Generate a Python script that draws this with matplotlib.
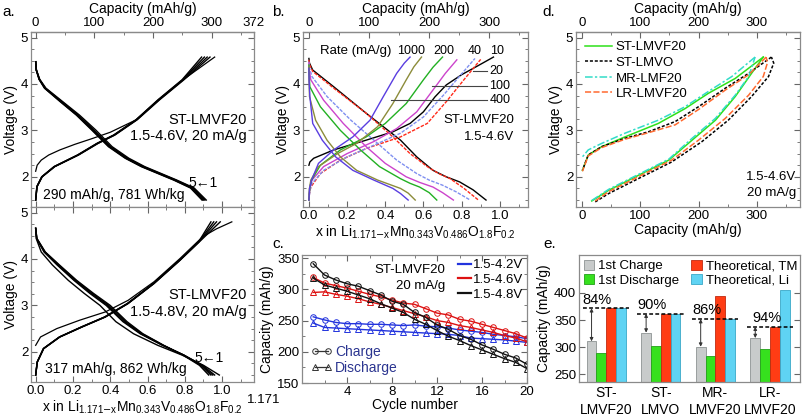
import numpy as np
import matplotlib.pyplot as plt
from matplotlib.ticker import MultipleLocator
from matplotlib.lines import Line2D
from matplotlib.patches import Patch

plt.rcParams['font.family'] = ['Liberation Sans', 'DejaVu Sans']
plt.rcParams['mathtext.default'] = 'regular'
plt.rcParams['font.size'] = 9.5

# ---------------- data ----------------
# x <-> capacity conversion (x = 1.171 at 372 mAh/g)
CAP_MAX = 372.0
X_MAX = 1.171

# panel a, 1.5-4.6 V, cycles 1..5
a46_dis_v = [4.48, 4.30, 4.10, 3.91, 3.62, 3.33, 3.01, 2.65, 2.40, 2.22, 2.08, 1.93, 1.76, 1.50]
a46_dis_x = [
    [0.0, 0.004, 0.022, 0.055, 0.145, 0.235, 0.322, 0.410, 0.500, 0.585, 0.668, 0.757, 0.850, 0.915],
    [0.0, 0.004, 0.020, 0.052, 0.140, 0.228, 0.312, 0.402, 0.492, 0.578, 0.662, 0.752, 0.844, 0.908],
    [0.0, 0.004, 0.020, 0.050, 0.137, 0.224, 0.308, 0.398, 0.488, 0.574, 0.658, 0.748, 0.838, 0.902],
    [0.0, 0.003, 0.019, 0.049, 0.134, 0.221, 0.304, 0.394, 0.484, 0.570, 0.654, 0.744, 0.834, 0.897],
    [0.0, 0.003, 0.018, 0.047, 0.131, 0.218, 0.300, 0.390, 0.480, 0.566, 0.650, 0.740, 0.830, 0.892],
]
a46_chg1_v = [2.12, 2.25, 2.36, 2.47, 2.58, 2.70, 2.82, 2.96, 3.23, 3.66, 4.09, 4.58]
a46_chg1_x = [0.0, 0.008, 0.030, 0.070, 0.130, 0.210, 0.300, 0.400, 0.540, 0.660, 0.790, 0.960]
a46_chg_v = [1.50, 1.79, 2.00, 2.22, 2.47, 2.72, 2.90, 3.23, 3.66, 4.09, 4.58]
a46_chg_x = [
    [0.0, 0.008, 0.035, 0.103, 0.230, 0.335, 0.425, 0.545, 0.665, 0.795, 0.935],
    [0.0, 0.007, 0.034, 0.101, 0.228, 0.332, 0.422, 0.542, 0.662, 0.791, 0.920],
    [0.0, 0.007, 0.033, 0.100, 0.226, 0.330, 0.420, 0.540, 0.659, 0.788, 0.905],
    [0.0, 0.006, 0.032, 0.098, 0.224, 0.328, 0.418, 0.538, 0.656, 0.785, 0.890],
]

# panel a, 1.5-4.8 V, cycles 1..5
a48_dis_v = [4.66, 4.44, 4.15, 3.87, 3.54, 3.26, 3.00, 2.65, 2.39, 2.14, 1.93, 1.71, 1.50]
a48_dis_x = [
    [0.0, 0.003, 0.030, 0.090, 0.175, 0.260, 0.345, 0.430, 0.525, 0.655, 0.785, 0.900, 0.985],
    [0.0, 0.005, 0.045, 0.115, 0.205, 0.290, 0.378, 0.468, 0.560, 0.680, 0.795, 0.895, 0.960],
    [0.0, 0.006, 0.048, 0.120, 0.210, 0.297, 0.385, 0.475, 0.565, 0.683, 0.795, 0.890, 0.950],
    [0.0, 0.006, 0.050, 0.124, 0.215, 0.303, 0.392, 0.482, 0.570, 0.685, 0.793, 0.885, 0.940],
    [0.0, 0.007, 0.052, 0.128, 0.220, 0.310, 0.400, 0.490, 0.575, 0.687, 0.790, 0.878, 0.928],
]
a48_chg1_v = [2.14, 2.32, 2.50, 2.68, 2.86, 3.11, 3.51, 4.01, 4.48, 4.65, 4.80]
a48_chg1_x = [0.0, 0.026, 0.113, 0.235, 0.374, 0.496, 0.635, 0.774, 0.896, 0.970, 1.052]
a48_chg_v = [1.50, 1.78, 2.07, 2.32, 2.54, 2.75, 3.04, 3.47, 3.97, 4.37, 4.80]
a48_chg_x = [
    [0.0, 0.009, 0.043, 0.130, 0.252, 0.374, 0.496, 0.635, 0.774, 0.878, 0.990],
    [0.0, 0.009, 0.043, 0.129, 0.250, 0.372, 0.494, 0.633, 0.772, 0.876, 0.970],
    [0.0, 0.008, 0.042, 0.128, 0.249, 0.371, 0.493, 0.632, 0.771, 0.875, 0.955],
    [0.0, 0.008, 0.041, 0.127, 0.247, 0.369, 0.491, 0.630, 0.770, 0.874, 0.940],
]

# panel b, rate capability (mA/g)
rates = [10, 20, 40, 100, 200, 400, 1000]
rate_colors = ['#000000', '#ff2a1a', '#7f8ff0', '#cc44cc', '#22b022', '#8c8c3a', '#5a3ee0']
rate_styles = ['-', (0, (2.5, 1)), (0, (2.5, 1)), '-', '-', '-', '-']
b_chg_x = [
    [0, 0.005, 0.025, 0.13, 0.30, 0.44, 0.53, 0.60, 0.66, 0.72, 0.80, 0.88, 0.967],
    [0, 0.003, 0.01, 0.06, 0.165, 0.30, 0.48, 0.62, 0.72, 0.81, 0.90],
    [0, 0.005, 0.016, 0.077, 0.20, 0.34, 0.48, 0.60, 0.705, 0.79, 0.87],
    [0, 0.004, 0.016, 0.077, 0.20, 0.34, 0.46, 0.565, 0.65, 0.715, 0.775],
    [0, 0.004, 0.014, 0.06, 0.165, 0.30, 0.40, 0.51, 0.60, 0.65, 0.70],
    [0, 0.003, 0.01, 0.05, 0.15, 0.25, 0.36, 0.44, 0.51, 0.55, 0.59],
    [0, 0.003, 0.014, 0.05, 0.13, 0.23, 0.32, 0.39, 0.46, 0.50, 0.53],
]
b_chg_v = [
    [2.25, 2.32, 2.40, 2.58, 2.79, 2.97, 3.15, 3.40, 3.72, 3.98, 4.20, 4.38, 4.58],
    [1.50, 1.65, 1.78, 2.07, 2.36, 2.61, 2.86, 3.15, 3.62, 4.08, 4.53],
    [1.50, 1.70, 1.86, 2.14, 2.43, 2.68, 2.94, 3.29, 3.76, 4.17, 4.55],
    [1.50, 1.72, 1.93, 2.22, 2.50, 2.76, 3.04, 3.40, 3.87, 4.23, 4.52],
    [1.50, 1.75, 1.93, 2.25, 2.58, 2.86, 3.15, 3.58, 4.09, 4.36, 4.58],
    [1.50, 1.75, 1.93, 2.22, 2.50, 2.72, 3.08, 3.58, 4.09, 4.37, 4.58],
    [1.50, 1.75, 1.93, 2.29, 2.58, 2.86, 3.22, 3.73, 4.23, 4.45, 4.58],
]
b_dis_x = [
    [0, 0.003, 0.02, 0.13, 0.30, 0.48, 0.565, 0.65, 0.72, 0.79, 0.86, 0.928],
    [0, 0.003, 0.02, 0.13, 0.30, 0.44, 0.53, 0.62, 0.68, 0.74, 0.81, 0.888],
    [0, 0.003, 0.016, 0.095, 0.22, 0.36, 0.46, 0.565, 0.63, 0.70, 0.77, 0.845],
    [0, 0.002, 0.01, 0.077, 0.18, 0.30, 0.40, 0.51, 0.58, 0.65, 0.70, 0.757],
    [0, 0.001, 0.005, 0.06, 0.165, 0.27, 0.37, 0.48, 0.53, 0.58, 0.63, 0.67],
    [0, 0.001, 0.003, 0.035, 0.095, 0.165, 0.25, 0.36, 0.42, 0.48, 0.52, 0.557],
    [0, 0.001, 0.005, 0.02, 0.07, 0.14, 0.23, 0.34, 0.39, 0.44, 0.48, 0.52],
]
b_dis_v = [
    [4.55, 4.45, 4.30, 3.94, 3.37, 2.79, 2.43, 2.14, 2.00, 1.89, 1.72, 1.50],
    [4.52, 4.42, 4.27, 3.91, 3.37, 2.86, 2.50, 2.22, 2.07, 1.96, 1.76, 1.50],
    [4.48, 4.35, 4.16, 3.73, 3.22, 2.72, 2.36, 2.07, 1.93, 1.82, 1.68, 1.50],
    [4.45, 4.30, 4.09, 3.65, 3.15, 2.65, 2.29, 2.00, 1.88, 1.78, 1.66, 1.50],
    [4.41, 4.20, 3.94, 3.51, 3.00, 2.58, 2.22, 1.96, 1.86, 1.78, 1.66, 1.50],
    [4.37, 4.10, 3.73, 3.22, 2.79, 2.43, 2.14, 1.93, 1.84, 1.75, 1.65, 1.50],
    [4.34, 4.05, 3.73, 3.15, 2.79, 2.43, 2.14, 1.93, 1.84, 1.75, 1.64, 1.50],
]

# panel c, cycling
cycles = list(range(1, 21))
c42_chg = [256, 251, 247, 245, 245, 244, 244, 243, 242, 243, 241, 240, 238, 235, 233, 231, 228, 226, 224, 221]
c42_dis = [246, 239, 238, 237, 236, 235, 234, 233, 232, 231, 230, 229, 228, 226, 222, 221, 220, 219, 217, 215]
c46_chg = [319, 310, 306, 302, 297, 292, 288, 283, 278, 276, 269, 262, 259, 252, 249, 244, 239, 234, 229, 222]
c46_dis = [295, 296, 292, 289, 285, 280, 276, 271, 266, 261, 256, 250, 247, 242, 239, 235, 231, 226, 222, 216]
c48_chg = [341, 323, 315, 309, 305, 298, 291, 281, 276, 263, 255, 243, 236, 226, 220, 211, 204, 196, 190, 180]
c48_dis = [318, 307, 302, 297, 291, 285, 277, 270, 263, 252, 244, 234, 225, 218, 210, 203, 196, 189, 183, 173]

# panel d, voltage profiles of four samples (capacity mAh/g, voltage V)
d_names = ['ST-LMVF20', 'ST-LMVO', 'MR-LMF20', 'LR-LMVF20']
d_colors = ['#2ee01a', '#000000', '#33dcc8', '#ff6a30']
d_styles = ['-', (0, (2, 1.2)), (0, (5, 1.5, 1.5, 1.5)), (0, (4, 1.5))]
d_chg_cap = [
    [17, 46, 103, 149, 189, 229, 263, 291, 311],
    [23, 46, 103, 154, 206, 251, 291, 320, 329, 325],
    [17, 46, 103, 149, 189, 229, 263, 286, 297],
    [23, 46, 103, 154, 200, 246, 286, 311, 318, 316],
]
d_chg_v = [
    [1.48, 1.71, 2.07, 2.36, 2.79, 3.22, 3.73, 4.23, 4.58],
    [1.46, 1.64, 2.00, 2.32, 2.76, 3.22, 3.73, 4.16, 4.45, 4.58],
    [1.49, 1.73, 2.09, 2.38, 2.83, 3.26, 3.76, 4.16, 4.58],
    [1.48, 1.68, 2.04, 2.36, 2.79, 3.26, 3.76, 4.16, 4.45, 4.58],
]
d_dis_cap = [
    [311, 263, 217, 177, 131, 74, 34, 11, 1],
    [325, 286, 246, 200, 160, 114, 74, 34, 11, 1],
    [297, 257, 217, 177, 131, 74, 34, 11, 1],
    [316, 286, 246, 200, 160, 114, 74, 34, 11, 1],
]
d_dis_v = [
    [4.58, 4.12, 3.80, 3.47, 3.15, 2.86, 2.65, 2.47, 2.14],
    [4.58, 4.23, 3.91, 3.51, 3.19, 2.97, 2.83, 2.65, 2.47, 2.14],
    [4.58, 4.16, 3.84, 3.51, 3.22, 2.94, 2.72, 2.58, 2.43],
    [4.58, 4.20, 3.87, 3.45, 3.12, 2.95, 2.81, 2.63, 2.45, 2.12],
]

# panel e, bars
e_groups = ['ST-\nLMVF20', 'ST-\nLMVO', 'MR-\nLMVF20', 'LR-\nLMVF20']
e_charge = [311, 327, 301, 317]
e_discharge = [290, 303, 284, 296]
e_theo_tm = [372, 362, 394, 338]
e_theo_li = [372, 362, 352, 405]
e_limit = [372, 362, 352, 338]
e_pct = ['84%', '90%', '86%', '94%']

# ---------------- figure ----------------
W, H = 802, 419
fig = plt.figure(figsize=(W / 100, H / 100), dpi=100)


def box(l, t, r, b):
    return fig.add_axes([l / W, 1 - b / H, (r - l) / W, (b - t) / H])


def style(ax, top=True):
    for s in ax.spines.values():
        s.set_color('#8a8a8a')
        s.set_linewidth(0.9)
    ax.tick_params(which='both', direction='in', top=top, right=True,
                   color='#666666', labelsize=9.5, pad=2)
    ax.tick_params(which='major', length=4)
    ax.tick_params(which='minor', length=2.5)


def x2cap(x):
    return np.asarray(x) * CAP_MAX / X_MAX


def cap2x(c):
    return np.asarray(c) * X_MAX / CAP_MAX


def volt_axis(ax):
    ax.set_ylim(1.35, 5.12)
    ax.yaxis.set_major_locator(MultipleLocator(1))
    ax.yaxis.set_minor_locator(MultipleLocator(0.25))
    ax.set_ylabel('Voltage (V)', fontsize=10, labelpad=2)


def top_ticks(sec):
    sec.xaxis.set_minor_locator(MultipleLocator(50))
    sec.tick_params(which='both', direction='in', color='#666666', labelsize=9.5, pad=2)
    sec.tick_params(which='major', length=4)
    sec.tick_params(which='minor', length=2.5)
    sec.set_xlabel('Capacity (mAh/g)', fontsize=10, labelpad=3)


xlabel_li = r'x in Li$_{1.171\mathrm{-}x}$Mn$_{0.343}$V$_{0.486}$O$_{1.8}$F$_{0.2}$'

# ---- panel a (top) ----
axa1 = box(31, 32, 254, 207)
style(axa1, top=False)
for xs in a46_dis_x:
    axa1.plot(xs, a46_dis_v, color='k', lw=1.0)
for xs in a46_chg_x:
    axa1.plot(xs, a46_chg_v, color='k', lw=1.0)
axa1.plot(a46_chg1_x, a46_chg1_v, color='k', lw=0.9)
axa1.set_xlim(-0.025, X_MAX)
volt_axis(axa1)
axa1.xaxis.set_major_locator(MultipleLocator(0.2))
axa1.xaxis.set_minor_locator(MultipleLocator(0.1))
axa1.tick_params(labelbottom=False)
seca = axa1.secondary_xaxis('top', functions=(x2cap, cap2x))
seca.set_xticks([0, 100, 200, 300, 372])
top_ticks(seca)
axa1.text(1.13, 3.23, 'ST-LMVF20', ha='right', va='center', fontsize=10.5)
axa1.text(1.13, 2.87, '1.5-4.6V, 20 mA/g', ha='right', va='center', fontsize=10.5)
axa1.text(0.04, 1.61, '290 mAh/g, 781 Wh/kg', ha='left', va='center', fontsize=10)
axa1.text(0.82, 1.86, '5\u21901', ha='left', va='center', fontsize=10)

# ---- panel a (bottom) ----
axa2 = box(31, 207, 254, 382)
style(axa2)
for xs in a48_dis_x:
    axa2.plot(xs, a48_dis_v, color='k', lw=1.0)
for xs in a48_chg_x:
    axa2.plot(xs, a48_chg_v, color='k', lw=1.0)
axa2.plot(a48_chg1_x, a48_chg1_v, color='k', lw=0.9)
axa2.set_xlim(-0.025, X_MAX)
volt_axis(axa2)
axa2.xaxis.set_minor_locator(MultipleLocator(0.1))
axa2.set_xticks([0, 0.2, 0.4, 0.6, 0.8, 1.0])
axa2.set_xticklabels(['0.0', '0.2', '0.4', '0.6', '0.8', '1.0'])
axa2.set_xlabel(xlabel_li, fontsize=10, labelpad=1)
axa2.annotate('1.171', xy=(1, 0), xycoords='axes fraction', xytext=(7, -13),
              textcoords='offset points', ha='center', va='center', fontsize=9.5)
axa2.text(1.13, 3.22, 'ST-LMVF20', ha='right', va='center', fontsize=10.5)
axa2.text(1.13, 2.86, '1.5-4.8V, 20 mA/g', ha='right', va='center', fontsize=10.5)
axa2.text(0.05, 1.64, '317 mAh/g, 862 Wh/kg', ha='left', va='center', fontsize=10)
axa2.text(0.85, 1.87, '5\u21901', ha='left', va='center', fontsize=10)

# ---- panel b ----
axb = box(303, 32, 528, 207)
style(axb, top=False)
for i in range(len(rates)):
    axb.plot(b_chg_x[i], b_chg_v[i], color=rate_colors[i], ls=rate_styles[i], lw=1.0)
    axb.plot(b_dis_x[i], b_dis_v[i], color=rate_colors[i], ls=rate_styles[i], lw=1.0)
axb.set_xlim(-0.031, 1.148)
volt_axis(axb)
axb.set_xticks([0, 0.2, 0.4, 0.6, 0.8, 1.0])
axb.set_xticklabels(['0.0', '0.2', '0.4', '0.6', '0.8', '1.0'])
axb.xaxis.set_minor_locator(MultipleLocator(0.1))
axb.set_xlabel(xlabel_li, fontsize=10, labelpad=1)
secb = axb.secondary_xaxis('top', functions=(x2cap, cap2x))
secb.set_xticks([0, 100, 200, 300])
top_ticks(secb)
axb.text(0.06, 4.71, 'Rate (mA/g)', ha='left', va='center', fontsize=9.5)
for lab, xx in zip(['1000', '200', '40', '10'], [0.534, 0.708, 0.871, 0.985]):
    axb.text(xx, 4.71, lab, ha='center', va='center', fontsize=9)
for lab, x0, vv in zip(['20', '100', '400'], [0.862, 0.644, 0.429], [4.27, 3.96, 3.65]):
    axb.plot([x0, 0.935], [vv, vv], color='#444444', lw=0.8)
    axb.text(0.945, vv, lab, ha='left', va='center', fontsize=9)
axb.text(1.075, 3.22, 'ST-LMVF20', ha='right', va='center', fontsize=9.5)
axb.text(1.075, 2.86, '1.5-4.6V', ha='right', va='center', fontsize=9.5)

# ---- panel c ----
axc = box(302, 255, 527, 383)
style(axc)
for chg, dis, col in [(c42_chg, c42_dis, '#2233dd'), (c46_chg, c46_dis, '#dd1111'),
                      (c48_chg, c48_dis, '#111111')]:
    axc.plot(cycles, chg, color=col, lw=1.0, marker='o', ms=4, mfc='none', mew=0.7)
    axc.plot(cycles, dis, color=col, lw=1.0, marker='^', ms=4, mfc='none', mew=0.7)
axc.set_xlim(0, 20)
axc.set_ylim(150, 355)
axc.set_xticks([4, 8, 12, 16, 20])
axc.xaxis.set_minor_locator(MultipleLocator(2))
axc.set_yticks([150, 200, 250, 300, 350])
axc.yaxis.set_minor_locator(MultipleLocator(25))
axc.set_xlabel('Cycle number', fontsize=10, labelpad=0)
axc.set_ylabel('Capacity (mAh/g)', fontsize=10, labelpad=2)
axc.text(12.7, 331, 'ST-LMVF20', ha='right', va='center', fontsize=9.5)
axc.text(12.7, 305, '20 mA/g', ha='right', va='center', fontsize=9.5)
h1 = [Line2D([], [], color=c, lw=1.6) for c in ['#2233dd', '#dd1111', '#111111']]
leg1 = axc.legend(h1, ['1.5-4.2V', '1.5-4.6V', '1.5-4.8V'], loc='upper right',
                  frameon=False, fontsize=9.5, handlelength=1.0, handletextpad=0.15,
                  labelspacing=0.2, borderaxespad=0.1, borderpad=0.2)
axc.add_artist(leg1)
h2 = [Line2D([], [], color='#333333', lw=0.9, marker=m, ms=4, mfc='none', mew=0.7)
      for m in ['o', '^']]
leg2 = axc.legend(h2, ['Charge', 'Discharge'], loc='lower left', frameon=False,
                  fontsize=10, numpoints=2, handlelength=1.6, handletextpad=0.2,
                  labelspacing=0.1, borderaxespad=0.2)
for t in leg2.get_texts():
    t.set_color('#2b3590')

# ---- panel d ----
axd = box(576, 32, 800, 207)
style(axd, top=False)
for i in range(len(d_names)):
    axd.plot(d_chg_cap[i], d_chg_v[i], color=d_colors[i], ls=d_styles[i], lw=1.1,
             label=d_names[i])
    axd.plot(d_dis_cap[i], d_dis_v[i], color=d_colors[i], ls=d_styles[i], lw=1.1)
axd.set_xlim(-10, 374)
volt_axis(axd)
axd.set_xticks([0, 100, 200, 300])
axd.xaxis.set_minor_locator(MultipleLocator(50))
axd.set_xlabel('Capacity (mAh/g)', fontsize=10, labelpad=1)
secd = axd.secondary_xaxis('top')
secd.set_xticks([0, 100, 200, 300])
top_ticks(secd)
axd.legend(loc='upper left', frameon=False, fontsize=9.5, handlelength=2.0,
           handletextpad=0.3, labelspacing=0.25, borderaxespad=0.3)
axd.text(368, 2.0, '1.5-4.6V', ha='right', va='center', fontsize=9.5)
axd.text(368, 1.65, '20 mA/g', ha='right', va='center', fontsize=9.5)

# ---- panel e ----
axe = box(579, 255, 800, 382)
style(axe)
pos = np.arange(len(e_groups))
bw = 0.18
bar_sets = [(e_charge, '#c8cbcb', '#8d9393', '1st Charge'),
            (e_discharge, '#36e01e', '#22a018', '1st Discharge'),
            (e_theo_tm, '#ff3c14', '#c02a10', 'Theoretical, TM'),
            (e_theo_li, '#5fd3f3', '#3aa8c8', 'Theoretical, Li')]
for k, (vals, fc, ec, lab) in enumerate(bar_sets):
    axe.bar(pos + (k - 1.5) * bw, vals, bw, bottom=0, color=fc, edgecolor=ec, lw=0.6)
for i in range(len(e_groups)):
    axe.plot([i - 0.43, i + 0.42], [e_limit[i], e_limit[i]], color='k', lw=1.1,
             ls=(0, (2.5, 1.5)))
    axe.annotate('', xy=(i - 1.5 * bw, e_limit[i]), xytext=(i - 1.5 * bw, e_charge[i]),
                 arrowprops=dict(arrowstyle='<|-|>', lw=0.7, color='#333333',
                                 mutation_scale=5, shrinkA=0, shrinkB=0))
    dx = 0.1 if i == 3 else 0.0
    axe.text(i - 0.43 + dx, e_limit[i] + 3, e_pct[i], ha='left', va='bottom', fontsize=10.5)
axe.set_xlim(-0.5, 3.55)
axe.set_ylim(236, 470)
axe.set_yticks([250, 300, 350, 400])
axe.set_xticks(pos)
axe.set_xticklabels(e_groups, fontsize=10, linespacing=1.25)
axe.tick_params(axis='x', which='both', length=0, top=False, pad=3)
axe.set_ylabel('Capacity (mAh/g)', fontsize=10, labelpad=2)
handles = [Patch(facecolor=fc, edgecolor=ec, lw=0.6) for _, fc, ec, _ in bar_sets]
axe.legend(handles, [b[3] for b in bar_sets], loc='upper left', ncol=2, frameon=False,
           fontsize=9.5, handlelength=0.8, handleheight=0.8, handletextpad=0.3,
           labelspacing=0.15, columnspacing=0.9, borderaxespad=0.15, borderpad=0.2)

# panel letters
for lab, px, py in [('a.', 2, 12), ('b.', 272, 12), ('c.', 272, 244), ('d.', 542, 12), ('e.', 543, 244)]:
    fig.text(px / W, 1 - py / H, lab, fontsize=11, ha='left', va='center')

fig.savefig('out.png', dpi=100)
